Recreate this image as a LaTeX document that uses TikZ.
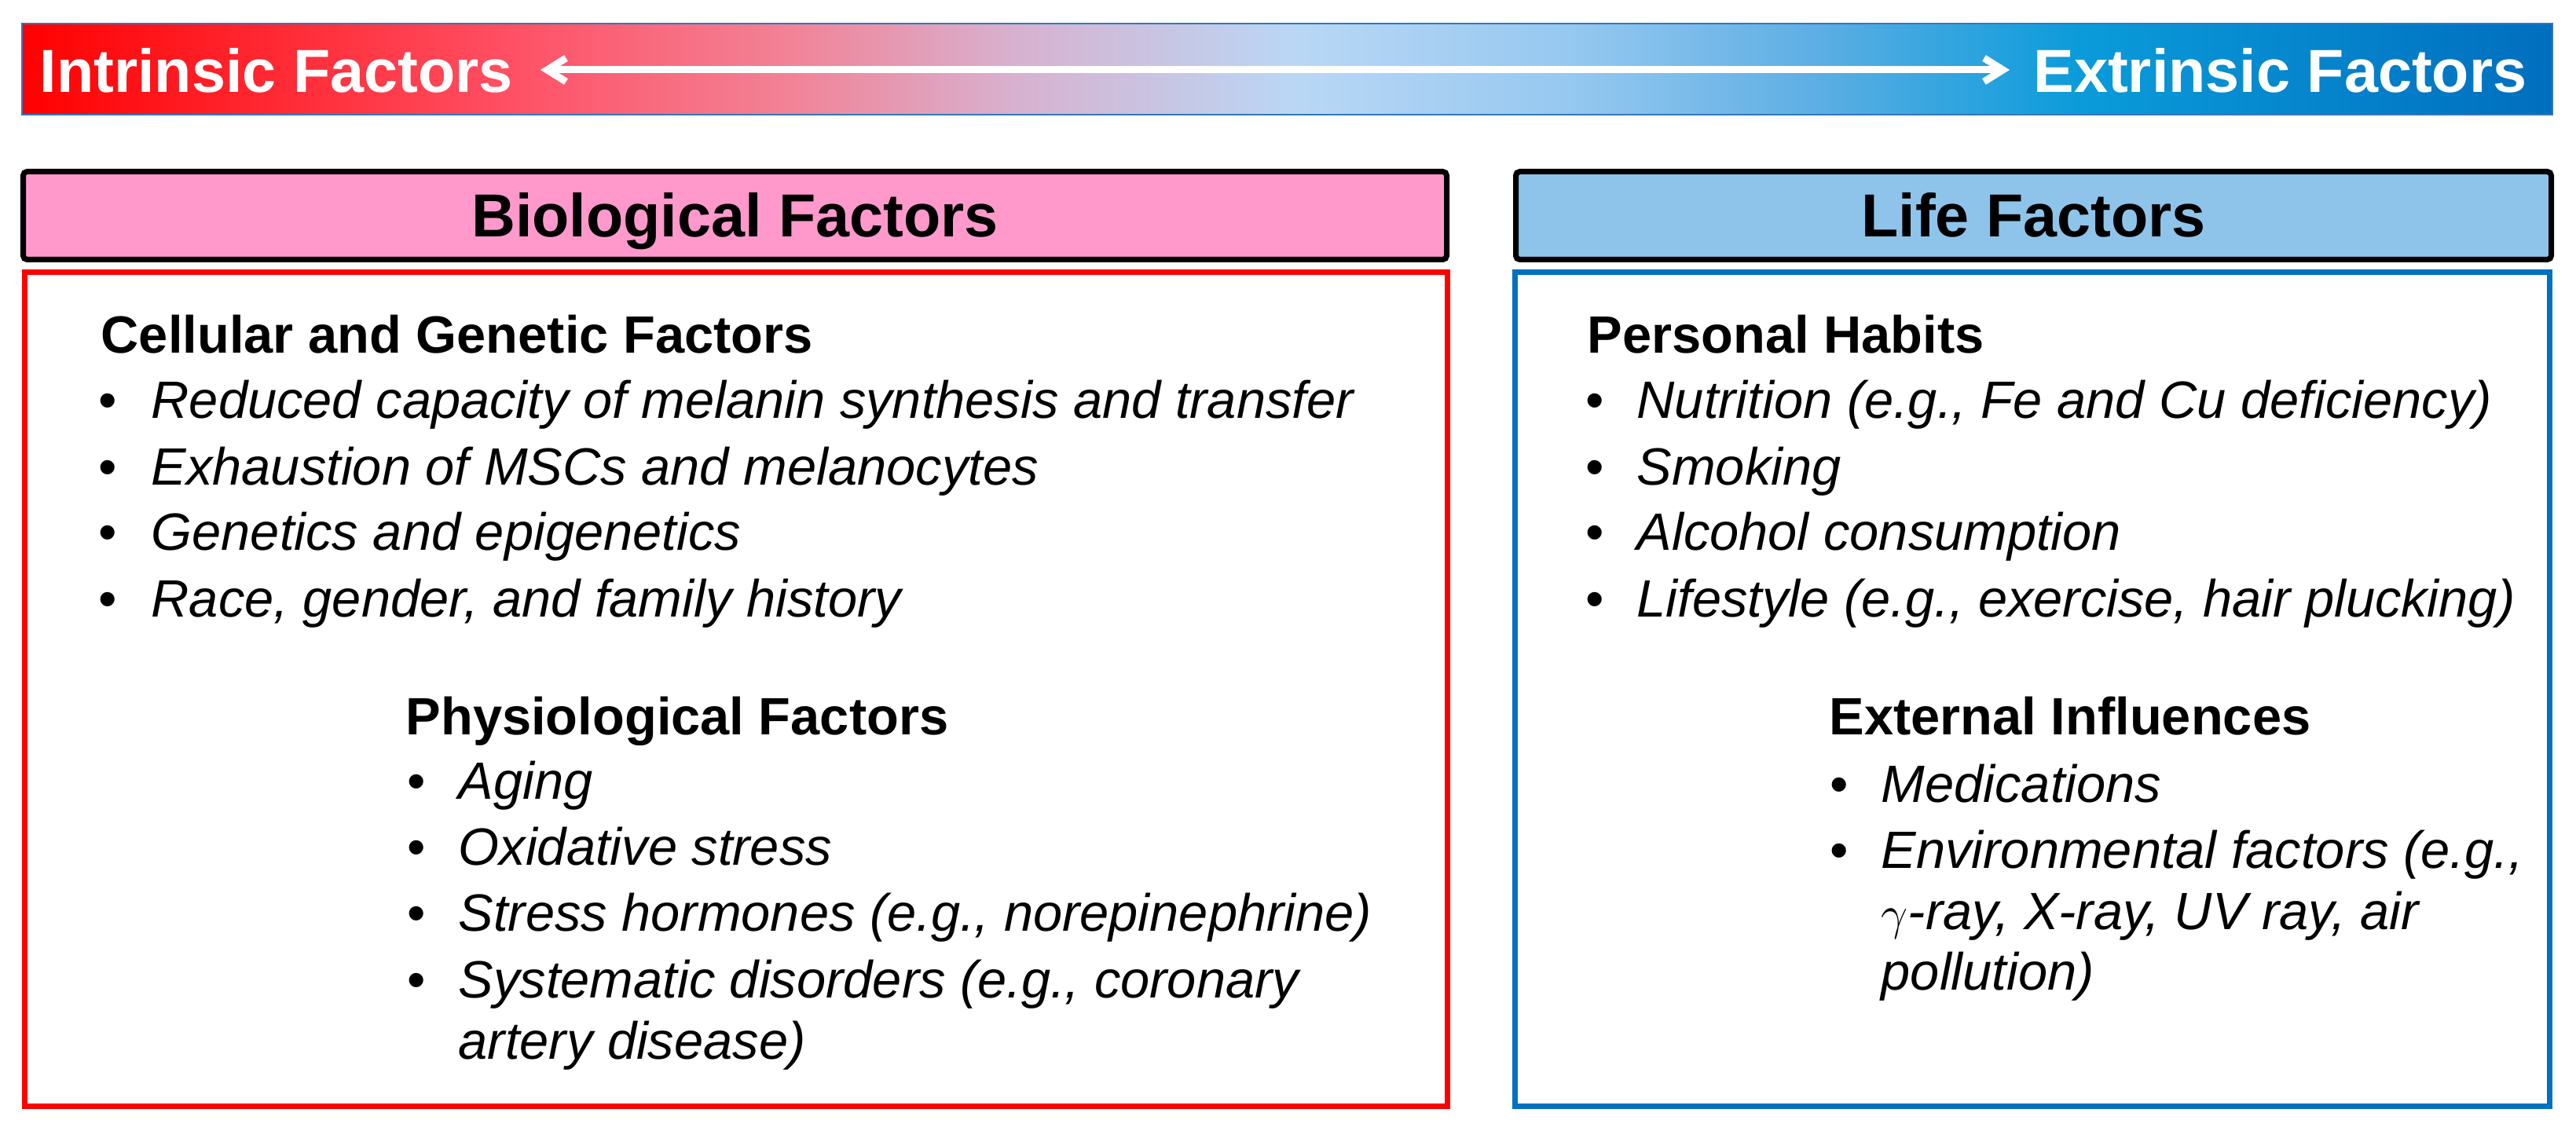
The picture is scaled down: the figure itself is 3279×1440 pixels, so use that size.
\documentclass[tikz,border=0pt]{standalone}
\usepackage{fontspec}
\setmainfont{Liberation Sans}
\usetikzlibrary{arrows.meta}
\definecolor{cA}{RGB}{255,0,0}
\definecolor{cB}{RGB}{255,80,100}
\definecolor{cC}{RGB}{242,130,150}
\definecolor{cD}{RGB}{215,178,208}
\definecolor{cE}{RGB}{185,215,245}
\definecolor{cF}{RGB}{150,200,240}
\definecolor{cG}{RGB}{95,175,228}
\definecolor{cH}{RGB}{10,155,218}
\definecolor{cI}{RGB}{0,110,190}
\definecolor{pinkhead}{RGB}{255,153,204}
\definecolor{bluehead}{RGB}{142,196,234}
\definecolor{boxred}{RGB}{255,0,0}
\definecolor{boxblue}{RGB}{0,112,192}
\definecolor{barline}{RGB}{50,120,185}
\pgfdeclarehorizontalshading{barshade}{100bp}{color(0bp)=(cA); color(25bp)=(cA); color(34.65bp)=(cB); color(40.1bp)=(cC); color(44.7bp)=(cD); color(50.2bp)=(cE); color(55.6bp)=(cF); color(60.3bp)=(cG); color(65.7bp)=(cH); color(75bp)=(cI); color(100bp)=(cI)}
\tikzset{
  bodytxt/.style={anchor=base west, inner sep=0pt, font=\fontsize{19pt}{22pt}\selectfont\itshape},
  subhead/.style={anchor=base west, inner sep=0pt, font=\fontsize{19pt}{22pt}\selectfont\bfseries},
  bul/.style={anchor=base, inner sep=0pt, font=\fontsize{19pt}{22pt}\selectfont},
  boxtitle/.style={anchor=base, inner sep=0pt, font=\fontsize{22pt}{26pt}\selectfont\bfseries},
  bartitle/.style={inner sep=0pt, text=white, font=\fontsize{22pt}{26pt}\selectfont\bfseries},
  hdrbox/.style={draw=black, line width=0.07cm, rounded corners=0.05cm},
  bodybox/.style={line width=0.07cm},
  barb/.tip={Straight Barb[length=0.24cm, width=0.30cm]}
}
\begin{document}
\begin{tikzpicture}[x=0.01cm,y=-0.01cm]
\useasboundingbox (0,0) rectangle (3279,1440);
% top gradient bar
\shade[shading=barshade] (28,30) rectangle (3249,146);
\draw[barline, line width=0.02cm] (28,30) rectangle (3249,146);
\node[bartitle, anchor=base west] (intr) at (50,118) {Intrinsic Factors};
\node[bartitle, anchor=base east] (extr) at (3217,118) {Extrinsic Factors};
\coordinate (al) at (688,89);
\coordinate (ar) at (2558,89);
\draw[white, line width=0.09cm, barb-barb] (al) -- (ar);
% header boxes
\draw[hdrbox, fill=pinkhead] (29.5,218.5) rectangle (1841.5,330.5);
\draw[hdrbox, fill=bluehead] (1929.5,218.5) rectangle (3247.5,330.5);
\node[boxtitle] (bio) at (935.5,302) {Biological Factors};
\node[boxtitle] (life) at (2588.5,302) {Life Factors};
% body boxes
\draw[bodybox, draw=boxred] (31.5,346.5) rectangle (1842.5,1408.5);
\draw[bodybox, draw=boxblue] (1928.5,346.5) rectangle (3245.5,1408.5);
% left top
\node[subhead] (cg) at (128,450) {Cellular and Genetic Factors};
\node[bul] (b1) at (137,533) {•};
\node[bodytxt] (t1) at (192,533) {Reduced capacity of melanin synthesis and transfer};
\node[bul] (b2) at (137,617) {•};
\node[bodytxt] (t2) at (192,617) {Exhaustion of MSCs and melanocytes};
\node[bul] (b3) at (137,701) {•};
\node[bodytxt] (t3) at (192,701) {Genetics and epigenetics};
\node[bul] (b4) at (137,785) {•};
\node[bodytxt] (t4) at (192,785) {Race, gender, and family history};
% left bottom
\node[subhead] (pf) at (516,935) {Physiological Factors};
\node[bul] (b5) at (530,1017) {•};
\node[bodytxt] (t5) at (583,1017) {Aging};
\node[bul] (b6) at (530,1101) {•};
\node[bodytxt] (t6) at (583,1101) {Oxidative stress};
\node[bul] (b7) at (530,1185) {•};
\node[bodytxt] (t7) at (583,1185) {Stress hormones (e.g., norepinephrine)};
\node[bul] (b8) at (530,1270) {•};
\node[bodytxt] (t8) at (583,1270) {Systematic disorders (e.g., coronary};
\node[bodytxt] (t8b) at (583,1348) {artery disease)};
% right top
\node[subhead] (ph) at (2020,450) {Personal Habits};
\node[bul] (r1) at (2030,533) {•};
\node[bodytxt] (s1) at (2083,533) {Nutrition (e.g., Fe and Cu deficiency)};
\node[bul] (r2) at (2030,617) {•};
\node[bodytxt] (s2) at (2083,617) {Smoking};
\node[bul] (r3) at (2030,701) {•};
\node[bodytxt] (s3) at (2083,701) {Alcohol consumption};
\node[bul] (r4) at (2030,785) {•};
\node[bodytxt] (s4) at (2083,785) {Lifestyle (e.g., exercise, hair plucking)};
% right bottom
\node[subhead] (ei) at (2328,935) {External Influences};
\node[bul] (r5) at (2341,1021) {•};
\node[bodytxt] (s5) at (2394,1021) {Medications};
\node[bul] (r6) at (2341,1105) {•};
\node[bodytxt] (s6) at (2394,1105) {Environmental factors (e.g.,};
\node[bodytxt] (s6b) at (2394,1183) {$\gamma$-ray, X-ray, UV ray, air};
\node[bodytxt] (s6c) at (2394,1260) {pollution)};
\end{tikzpicture}
\end{document}
